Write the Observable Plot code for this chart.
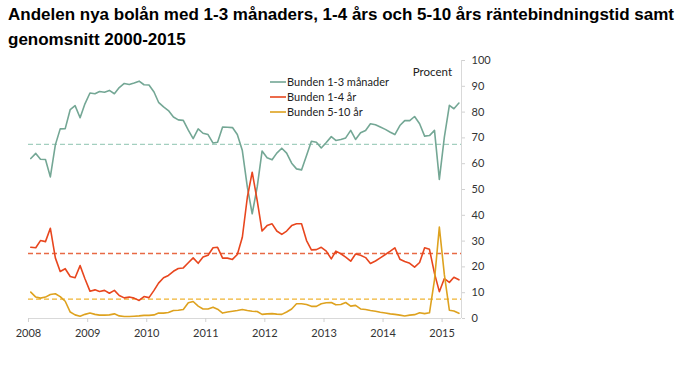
<!DOCTYPE html>
<html><head><meta charset="utf-8">
<script src="https://cdn.jsdelivr.net/npm/d3@7"></script>
<script src="https://cdn.jsdelivr.net/npm/@observablehq/plot@0.6"></script>
<style>
body{margin:0;background:#fff;width:688px;height:366px;position:relative;overflow:hidden;font-family:"Liberation Sans",Arial,sans-serif;}
#title{box-sizing:border-box;height:50px;padding:2px 0 0 8px;font-weight:bold;font-size:17px;line-height:25px;color:#000;white-space:nowrap;}
#legend{position:absolute;left:270px;top:74px;font-family:Lato,sans-serif;font-size:11px;color:#222;}
#legend .row{height:15px;line-height:15px;display:flex;align-items:center;}
#legend svg{margin-right:1px;}
#unit{position:absolute;right:236px;top:65px;font-family:Lato,sans-serif;font-size:11.5px;color:#222;}
#chart{position:absolute;left:0;top:50px;}
</style></head>
<body>
<div id="title">Andelen nya bolån med 1-3 månaders, 1-4 års och 5-10 års räntebindningstid samt<br>genomsnitt 2000-2015</div>
<div id="chart"></div>
<div id="unit">Procent</div>
<div id="legend"></div>
<script>
// Monthly observations, January 2008 – April 2015
const firstMonth = "2008-01";
const seriesNames = ["Bunden 1-3 månader", "Bunden 1-4 år", "Bunden 5-10 år"];
const colors = ["#74a795", "#e8461e", "#dea21f"];
const avgColors = ["#a3cfbf", "#e86a45", "#f0b433"];

const short = [62.0,64.0,61.7,61.6,54.9,67.3,73.5,73.6,81.0,82.5,77.8,83.2,
  87.4,87.1,88.0,87.7,88.4,87.1,89.5,91.1,90.7,91.3,92.0,90.6,
  90.5,87.8,83.8,82.0,80.6,78.1,77.0,76.8,73.0,69.7,73.5,71.8,
  71.3,68.0,68.3,74.2,74.1,74.0,71.3,65.1,50.9,40.6,51.0,64.9,
  62.3,61.5,64.1,66.0,64.1,60.2,58.0,57.6,63.2,68.7,68.3,66.1,
  68.2,70.5,69.0,69.4,70.0,72.9,69.4,72.0,72.9,75.5,75.1,74.2,
  73.3,72.2,71.3,74.8,76.7,76.7,78.3,75.5,70.7,70.9,72.9,53.9,
  70.3,82.6,81.3,83.5];
const mid = [27.6,27.4,30.2,29.8,35.0,23.5,18.2,19.3,16.3,15.8,20.5,15.4,
  10.6,11.1,10.5,10.9,9.8,10.9,8.9,8.0,8.3,7.9,7.0,8.5,
  8.1,10.9,13.7,15.8,16.7,18.3,19.4,19.6,21.6,23.5,21.4,23.8,
  24.5,27.4,27.6,23.4,23.4,22.9,24.8,31.5,47.0,56.7,45.7,33.9,
  36.0,36.7,33.9,32.6,33.9,36.0,36.7,36.7,30.2,26.6,26.7,27.6,
  26.1,23.1,26.1,25.1,23.8,22.2,25.0,24.5,23.6,21.3,22.3,23.5,
  24.8,26.1,27.4,23.0,22.1,21.4,19.9,21.7,27.4,26.8,17.5,10.4,
  15.5,14.0,16.0,15.0];
const long = [10.2,8.3,7.9,8.3,9.3,9.6,8.5,6.7,2.5,1.4,0.9,1.6,
  2.1,1.6,1.3,1.3,1.4,1.8,1.0,0.8,0.8,0.9,1.0,1.2,
  1.2,1.4,2.1,2.1,2.3,3.1,3.2,3.5,6.1,6.6,4.8,3.7,
  3.7,4.4,3.6,2.1,2.5,2.8,3.1,3.5,3.1,2.8,2.7,1.6,
  1.8,1.9,1.7,1.6,2.5,3.7,5.7,5.7,5.4,4.7,4.7,5.7,
  6.1,6.2,5.3,5.4,6.2,4.8,5.1,3.7,3.5,3.1,2.8,2.4,
  2.1,1.8,1.6,1.3,1.0,1.3,1.5,2.2,1.9,2.2,15.0,35.4,
  17.0,3.2,2.9,2.0];
const averages = [67.5, 25.2, 7.5]; // genomsnitt 2000-2015
const yearLabels = [2008,2009,2010,2011,2012,2013,2014,2015];
const yTicks = [0,10,20,30,40,50,60,70,80,90,100];

const start = new Date(firstMonth + "-15T00:00:00Z");
const toRows = (vals, s) => vals.map((v, i) => ({date: d3.utcMonth.offset(start, i), value: v, series: s}));
const allSeries = [short, mid, long];
const rows = allSeries.map((vals, k) => toRows(vals, seriesNames[k]));
const avgRows = averages.map((v, k) => ({value: v, color: avgColors[k]}));
const xEnd = new Date(Date.UTC(2015, 4, 1));

const chart = Plot.plot({
  width: 688, height: 316,
  marginLeft: 28, marginRight: 227, marginTop: 10, marginBottom: 48,
  style: {fontFamily: "Lato, sans-serif", fontSize: "11px", color: "#333", background: "transparent"},
  x: {type: "utc", domain: [new Date(Date.UTC(2008,0,1)), xEnd], label: null},
  y: {domain: [0, 100], label: null},
  marks: [
    Plot.ruleY(avgRows, {y: "value", stroke: "color", strokeWidth: 1.4, strokeDasharray: "5,3"}),
    Plot.ruleY([0], {stroke: "#d9d9d9", strokeWidth: 1}),
    Plot.ruleX([xEnd], {stroke: "#d9d9d9", strokeWidth: 1}),
    ...rows.map((r, k) => Plot.lineY(r, {x: "date", y: "value", stroke: colors[k], strokeWidth: 1.6})),
    Plot.axisX({ticks: yearLabels.map(y => new Date(Date.UTC(y,0,1))), tickFormat: d3.utcFormat("%Y"),
      tickSize: 4, tickPadding: 7, stroke: "#d0d0d0", fill: "#333", label: null}),
    Plot.axisY({anchor: "right", ticks: yTicks, tickSize: 3, tickPadding: 7, stroke: "#d0d0d0", fill: "#333", tickFormat: d => d, label: null})
  ]
});
document.getElementById("chart").appendChild(chart);

const leg = document.getElementById("legend");
seriesNames.forEach((name, k) => {
  const row = document.createElement("div");
  row.className = "row";
  row.innerHTML = `<svg width="16" height="6"><line x1="0" x2="16" y1="3" y2="3" stroke="${colors[k]}" stroke-width="1.6"/></svg><span>${name}</span>`;
  leg.appendChild(row);
});
</script>
</body></html>
